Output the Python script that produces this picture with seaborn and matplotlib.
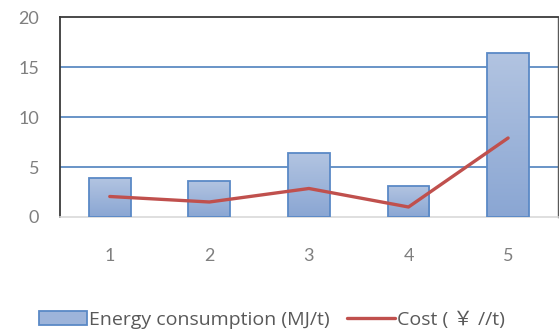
import numpy as np
import pandas as pd
import matplotlib
matplotlib.use("Agg")
import matplotlib.pyplot as plt
from matplotlib.colors import LinearSegmentedColormap
from matplotlib.patches import Patch
from matplotlib.lines import Line2D
import seaborn as sns

# Data
batches = ["1", "2", "3", "4", "5"]
energy = [3.9, 3.6, 6.4, 3.1, 16.4]   # MJ/t
cost = [2.05, 1.5, 2.85, 1.0, 7.9]     # ¥/t
y_ticks = [0, 5, 10, 15, 20]

df = pd.DataFrame({"batch": batches, "energy": energy, "cost": cost})
df["pos"] = np.arange(len(df))

sns.set_theme(style="white")
plt.rcParams["font.family"] = ["Lato", "Noto Sans CJK SC", "DejaVu Sans"]

fig = plt.figure(figsize=(5.59, 3.34), dpi=100)
ax = fig.add_axes([0.1073, 0.3503, 0.8907, 0.5988])

bar_edge = "#5A89C6"
sns.barplot(data=df, x="batch", y="energy", width=0.42, color="#9DB4DA",
            edgecolor=bar_edge, linewidth=1.3, ax=ax, zorder=3)

# vertical gradient fill inside each bar
grad_cmap = LinearSegmentedColormap.from_list("bar", ["#8AA6D3", "#B2C4E1"])
grad = np.linspace(0, 1, 256).reshape(-1, 1)
for patch in ax.patches:
    x0, y0 = patch.get_x(), patch.get_y()
    w, h = patch.get_width(), patch.get_height()
    ax.imshow(grad, extent=[x0, x0 + w, y0, y0 + h], origin="lower",
              aspect="auto", cmap=grad_cmap, zorder=2.9, interpolation="bicubic")
    patch.set_facecolor("none")

line_color = "#C0504D"
sns.lineplot(data=df, x="pos", y="cost", color=line_color, linewidth=2.4,
             ax=ax, zorder=4)

ax.set_xlim(-0.5, 4.5)
ax.set_ylim(0, 20)
ax.set_yticks(y_ticks)
ax.set_xticks(df["pos"])
ax.set_xticklabels(batches)
ax.set_xlabel("")
ax.set_ylabel("")

# horizontal gridlines
for v in y_ticks[1:-1]:
    ax.axhline(v, color="#4F81BD", linewidth=1.2, zorder=1)

for side in ["left", "top"]:
    ax.spines[side].set_color("#3a3a3a")
    ax.spines[side].set_linewidth(1.3)
ax.spines["right"].set_color("#5a5a5a")
ax.spines["right"].set_linewidth(1.0)
ax.spines["bottom"].set_color("#D9D9D9")
ax.spines["bottom"].set_linewidth(1.2)

ax.tick_params(axis="y", length=0, pad=15, labelsize=13, labelcolor="#7F7F7F")
ax.tick_params(axis="x", length=0, pad=22, labelsize=13, labelcolor="#7F7F7F")

handles = [
    Patch(facecolor="#9DB4DA", edgecolor=bar_edge, linewidth=1.3),
    Line2D([0], [0], color=line_color, linewidth=2.4),
]
labels = ["Energy consumption (MJ/t)", "Cost ( ￥ //t)"]
fig.legend(handles, labels, loc="center", bbox_to_anchor=(0.487, 0.042),
           ncol=2, frameon=False, labelcolor="#595959",
           prop={"family": ["Open Sans", "Noto Sans CJK SC"], "size": 14},
           handlelength=2.45, handletextpad=0.12, columnspacing=0.9,
           borderpad=0, borderaxespad=0)

fig.savefig("out.png", dpi=100)
